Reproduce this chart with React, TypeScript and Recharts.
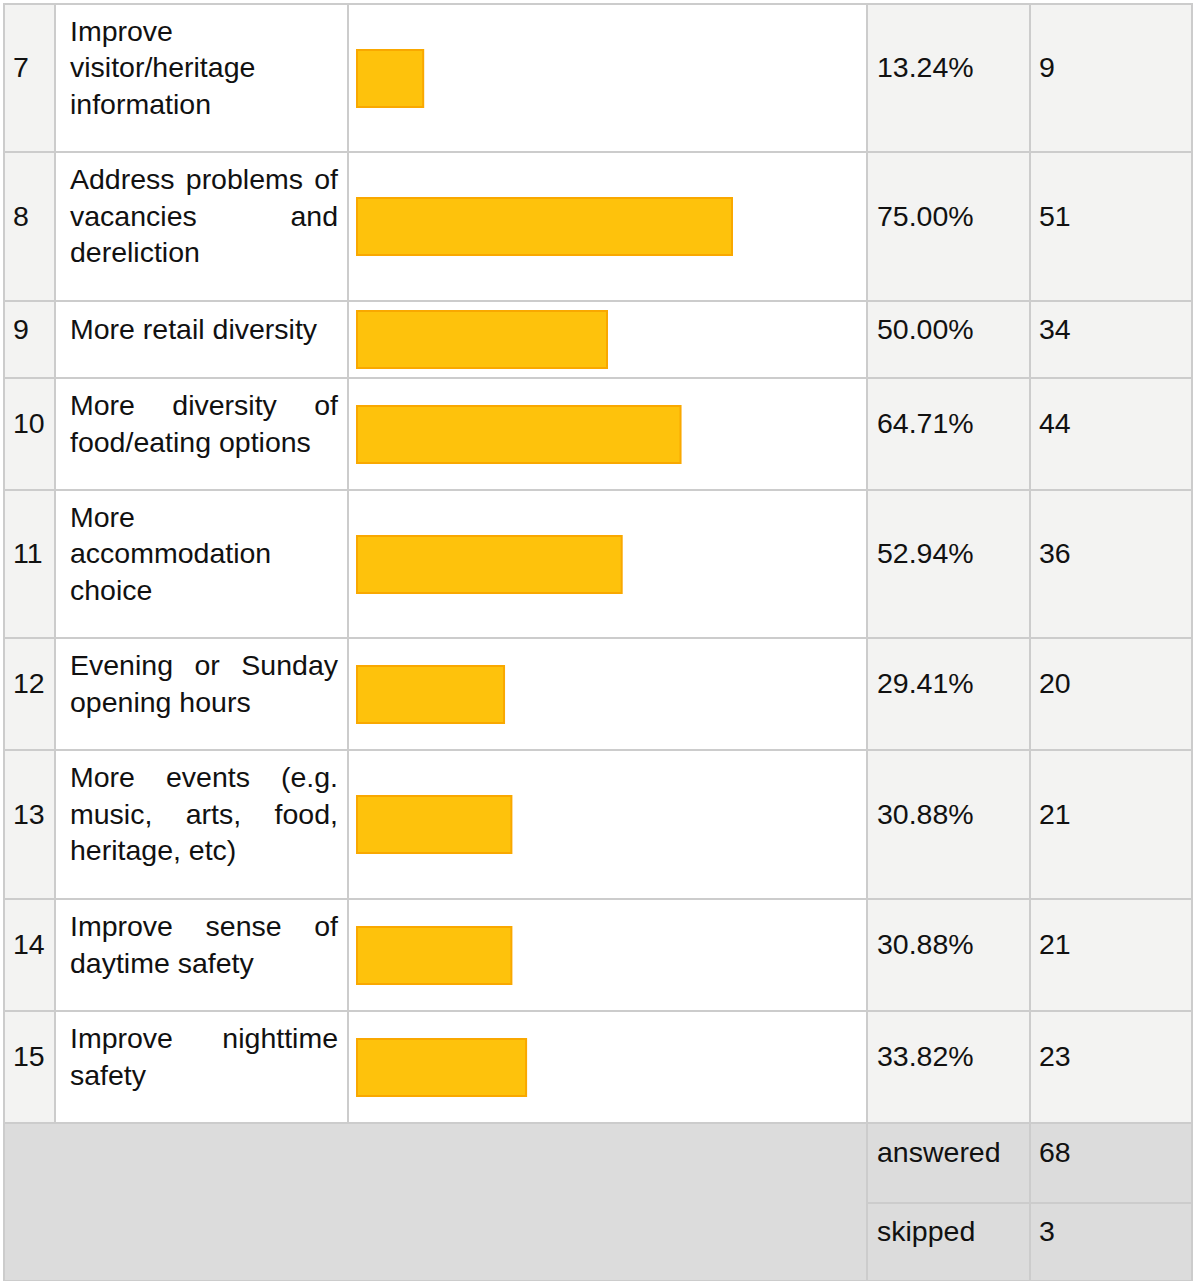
import React from 'react';
import { BarChart, Bar, XAxis, YAxis } from 'recharts';

const rowNumbers = [7, 8, 9, 10, 11, 12, 13, 14, 15];
const answerChoices = [
  'Improve visitor/heritage information',
  'Address problems of vacancies and dereliction',
  'More retail diversity',
  'More diversity of food/eating options',
  'More accommodation choice',
  'Evening or Sunday opening hours',
  'More events (e.g. music, arts, food, heritage, etc)',
  'Improve sense of daytime safety',
  'Improve nighttime safety',
];
const responsePercents = [13.24, 75.0, 50.0, 64.71, 52.94, 29.41, 30.88, 30.88, 33.82];
const responseCounts = [9, 51, 34, 44, 36, 20, 21, 21, 23];
const summaryLabels = ['answered', 'skipped'];
const summaryCounts = [68, 3];

// table geometry (px)
const rowEdges = [3, 151, 300, 377, 489, 637, 749, 898, 1010, 1122];
const summaryEdges = [1122, 1202, 1280];
const colEdges = [3, 54, 347, 866, 1029, 1191];
const LINE = 2;

const BORDER = '#cccccc';
const SHADE = '#f3f3f2';
const FOOTER = '#dcdcdc';
const BAR_FILL = '#fec20c';
const BAR_STROKE = '#f9a800';

const font: React.CSSProperties = {
  fontFamily: '"Liberation Sans", Arial, sans-serif',
  fontSize: 28.5,
  lineHeight: '36.5px',
  color: '#111',
};

const Cell = ({ x0, x1, y0, y1, bg, padLeft, padRight = 8, justify, children }: any) => (
  <div
    style={{
      position: 'absolute',
      left: x0,
      top: y0,
      width: x1 - x0,
      height: y1 - y0,
      background: bg,
      display: 'flex',
      alignItems: 'center',
      boxSizing: 'border-box',
      paddingLeft: padLeft,
      paddingRight: padRight,
      paddingBottom: 21,
    }}
  >
    <div style={{ ...font, width: '100%', textAlign: justify ? 'justify' : 'left' }}>{children}</div>
  </div>
);

const RowBar = ({ value, label, top, height }: { value: number; label: string; top: number; height: number }) => {
  const left = colEdges[2] + LINE;
  const width = colEdges[3] - left;
  return (
    <div style={{ position: 'absolute', left, top, width, height }}>
      <BarChart
        width={width}
        height={height}
        layout="vertical"
        data={[{ name: label, value }]}
        margin={{ top: 0, right: 9, bottom: 0, left: 8 }}
      >
        <XAxis type="number" domain={[0, 100]} hide />
        <YAxis type="category" dataKey="name" hide />
        <Bar
          dataKey="value"
          barSize={57}
          fill={BAR_FILL}
          stroke={BAR_STROKE}
          strokeWidth={2}
          isAnimationActive={false}
        />
      </BarChart>
    </div>
  );
};

const HLine = ({ y, x0, x1 }: { y: number; x0: number; x1: number }) => (
  <div style={{ position: 'absolute', left: x0, top: y, width: x1 - x0, height: LINE, background: BORDER }} />
);
const VLine = ({ x, y0, y1 }: { x: number; y0: number; y1: number }) => (
  <div style={{ position: 'absolute', left: x, top: y0, width: LINE, height: y1 - y0, background: BORDER }} />
);

export default function App() {
  const bottom = summaryEdges[summaryEdges.length - 1];
  const right = colEdges[colEdges.length - 1] + LINE;
  return (
    <div style={{ position: 'absolute', left: 0, top: 0, width: 1194, height: 1281, background: '#fff' }}>
      {rowNumbers.map((num, i) => {
        const y0 = rowEdges[i] + LINE;
        const y1 = rowEdges[i + 1];
        return (
          <React.Fragment key={num}>
            <Cell x0={colEdges[0] + LINE} x1={colEdges[1]} y0={y0} y1={y1} bg={SHADE} padLeft={8}>
              {num}
            </Cell>
            <Cell x0={colEdges[1] + LINE} x1={colEdges[2]} y0={y0} y1={y1} bg="#fff" padLeft={14} padRight={9} justify>
              {answerChoices[i]}
            </Cell>
            <RowBar value={responsePercents[i]} label={answerChoices[i]} top={y0} height={y1 - y0} />
            <Cell x0={colEdges[3] + LINE} x1={colEdges[4]} y0={y0} y1={y1} bg={SHADE} padLeft={9}>
              {responsePercents[i].toFixed(2)}%
            </Cell>
            <Cell x0={colEdges[4] + LINE} x1={colEdges[5]} y0={y0} y1={y1} bg={SHADE} padLeft={8}>
              {responseCounts[i]}
            </Cell>
          </React.Fragment>
        );
      })}

      {/* summary block */}
      <div
        style={{
          position: 'absolute',
          left: colEdges[0] + LINE,
          top: summaryEdges[0] + LINE,
          width: colEdges[3] - colEdges[0] - LINE,
          height: bottom - summaryEdges[0] - LINE,
          background: FOOTER,
        }}
      />
      {summaryLabels.map((lab, i) => {
        const y0 = summaryEdges[i] + LINE;
        const y1 = summaryEdges[i + 1];
        return (
          <React.Fragment key={lab}>
            <Cell x0={colEdges[3] + LINE} x1={colEdges[4]} y0={y0} y1={y1} bg={FOOTER} padLeft={9}>
              {lab}
            </Cell>
            <Cell x0={colEdges[4] + LINE} x1={colEdges[5]} y0={y0} y1={y1} bg={FOOTER} padLeft={8}>
              {summaryCounts[i]}
            </Cell>
          </React.Fragment>
        );
      })}

      {/* grid lines */}
      {rowEdges.map((y) => (
        <HLine key={'h' + y} y={y} x0={colEdges[0]} x1={right} />
      ))}
      <HLine y={summaryEdges[1]} x0={colEdges[3]} x1={right} />
      <HLine y={bottom} x0={colEdges[0]} x1={right} />
      <VLine x={colEdges[0]} y0={rowEdges[0]} y1={bottom + LINE} />
      <VLine x={colEdges[1]} y0={rowEdges[0]} y1={summaryEdges[0]} />
      <VLine x={colEdges[2]} y0={rowEdges[0]} y1={summaryEdges[0]} />
      <VLine x={colEdges[3]} y0={rowEdges[0]} y1={bottom + LINE} />
      <VLine x={colEdges[4]} y0={rowEdges[0]} y1={bottom + LINE} />
      <VLine x={colEdges[5]} y0={rowEdges[0]} y1={bottom + LINE} />
    </div>
  );
}
